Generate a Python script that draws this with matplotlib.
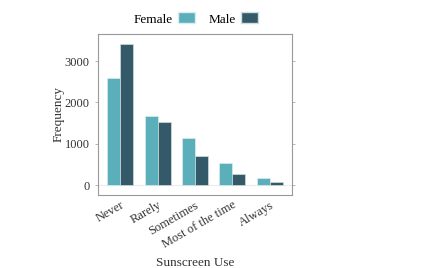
import matplotlib
matplotlib.use("Agg")
import matplotlib.pyplot as plt
import numpy as np
from matplotlib.patches import Patch

categories = ["Never", "Rarely", "Sometimes", "Most of the time", "Always"]
female = [2585, 1670, 1145, 525, 177]
male = [3405, 1532, 702, 258, 80]
series_names = ["Female", "Male"]
colors = ["#5AAFBB", "#345A69"]

plt.rcParams['font.family'] = ['Liberation Serif', 'DejaVu Serif']

fig = plt.figure(figsize=(4.23, 2.68), dpi=100)
ax = fig.add_axes([98/423, 1-195/268, 194/423, (195-33.5)/268])

x = np.arange(1, len(categories)+1)
w = 0.35
ax.axhline(0, color="#ebebeb", lw=0.8, zorder=0)
ax.bar(x - w/2, female, width=w, color=colors[0], edgecolor="#d8eef0", linewidth=0.5, zorder=2)
ax.bar(x + w/2, male, width=w, color=colors[1], edgecolor="#d0dde0", linewidth=0.5, zorder=2)

ax.set_xlim(0.4, 5.6)
ax.set_ylim(-240, 3670)
ax.set_yticks([0, 1000, 2000, 3000])
ax.set_xticks(x)
ax.set_xticklabels(categories, rotation=30, ha='right', rotation_mode='anchor', fontsize=9, color="#333333")
ax.tick_params(axis='x', length=0, pad=3)
ax.tick_params(axis='y', labelsize=9, length=2.5, color="#aaaaaa", labelcolor="#333333", right=True, width=0.6)
for s in ax.spines.values():
    s.set_color("#999999")
    s.set_linewidth(0.8)

ax.set_ylabel("Frequency", fontsize=9.5, color="#333333")
ax.yaxis.set_label_coords(-0.172, 0.5)
ax.set_xlabel("Sunscreen Use", fontsize=9.5, color="#333333", labelpad=4)

handles = [Patch(facecolor=colors[0], edgecolor="#d8eef0", label="Female"),
           Patch(facecolor=colors[1], edgecolor="#d0dde0", label="Male")]
fig.legend(handles=handles, loc='center', bbox_to_anchor=(196/423, 1-19/268), ncol=2,
           frameon=False, markerfirst=False, fontsize=9.5, handlelength=1.3, handleheight=0.9,
           handletextpad=0.4, columnspacing=1.0)

fig.savefig("out.png", dpi=100)
